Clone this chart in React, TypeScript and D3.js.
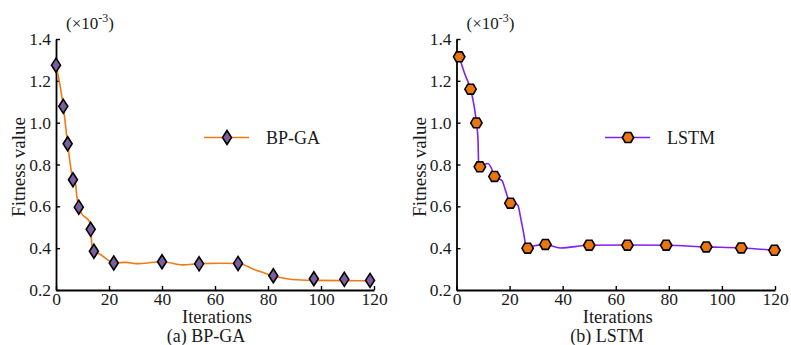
import * as d3 from "d3";
import { useEffect, useRef } from "react";

// BP-GA (panel a): marker positions and the traced fitness curve (x10^-3)
const bpMarkerIter = [0, 2.75, 4.4, 6.4, 8.6, 13.1, 14.3, 21.8, 40, 54, 68.7, 82, 97.3, 108.8, 118.5];
const bpMarkerFit = [1.275, 1.078, 0.899, 0.727, 0.596, 0.49, 0.385, 0.329, 0.335, 0.325, 0.327, 0.268, 0.254, 0.251, 0.246];
const bpLineIter = [0, 1.5, 2.75, 4.4, 6.4, 7.4, 7.8, 8.6, 9.6, 12.6, 13.1, 13.6, 14.3, 16.5, 21.8, 26.5, 30.3, 40, 47.8, 54, 61.6, 68.7, 75.3, 82, 89, 97.3, 108.8, 118.5];
const bpLineFit = [1.275, 1.18, 1.078, 0.899, 0.727, 0.705, 0.654, 0.596, 0.567, 0.527, 0.49, 0.41, 0.385, 0.372, 0.33, 0.332, 0.326, 0.335, 0.32, 0.326, 0.328, 0.327, 0.296, 0.268, 0.25, 0.246, 0.245, 0.244];

// LSTM (panel b)
const lstmMarkerIter = [1, 5.3, 7.5, 8.8, 14.3, 20.3, 26.8, 33.5, 50, 64.4, 79, 94.1, 107.3, 119.8];
const lstmMarkerFit = [1.315, 1.16, 0.999, 0.789, 0.743, 0.615, 0.4, 0.418, 0.414, 0.414, 0.414, 0.406, 0.401, 0.39];
const lstmLineIter = [1, 3.2, 5.3, 6.7, 7.5, 8.1, 8.3, 8.8, 10.5, 11.9, 13.4, 14.3, 16, 17.2, 18.4, 20.3, 22.2, 23.1, 24.1, 25.3, 26.1, 26.8, 29, 33.5, 39.1, 50, 64.4, 79, 94.1, 107.3, 119.8];
const lstmLineFit = [1.315, 1.23, 1.16, 1.075, 0.999, 0.92, 0.82, 0.789, 0.8, 0.805, 0.775, 0.743, 0.732, 0.722, 0.678, 0.615, 0.612, 0.606, 0.55, 0.471, 0.415, 0.4, 0.41, 0.418, 0.401, 0.414, 0.415, 0.414, 0.406, 0.401, 0.39];

const xTicks = [0, 20, 40, 60, 80, 100, 120];
const yTicks = [0.2, 0.4, 0.6, 0.8, 1.0, 1.2, 1.4];

const panels = [
  {
    x0: 56, x1: 374, caption: "(a) BP-GA", captionX: 206, label: "BP-GA",
    lineIter: bpLineIter, lineFit: bpLineFit, markIter: bpMarkerIter, markFit: bpMarkerFit,
    lineColor: "#f27a14", fill: "#7a5e9e", shape: "diamond", legendX: 204,
  },
  {
    x0: 456.5, x1: 775, caption: "(b) LSTM", captionX: 607, label: "LSTM",
    lineIter: lstmLineIter, lineFit: lstmLineFit, markIter: lstmMarkerIter, markFit: lstmMarkerFit,
    lineColor: "#7d22f2", fill: "#ea7410", shape: "hexagon", legendX: 605,
  },
];

const FONT = "'Liberation Serif', 'Times New Roman', serif";

const diamond = "M0,-7L4.5,0L0,7L-4.5,0Z";
const hexagon = (() => {
  const r = 5.7;
  const pts = d3.range(6).map((i) => {
    const a = (Math.PI / 3) * i;
    return [r * Math.cos(a), r * Math.sin(a)];
  });
  return "M" + pts.map((p) => p.join(",")).join("L") + "Z";
})();

const App = () => {
  const ref = useRef<SVGSVGElement>(null);

  useEffect(() => {
    const svg = d3.select(ref.current);
    const yTop = 39;
    const yBot = 290;

    panels.forEach((p) => {
      const x = d3.scaleLinear().domain([0, 120]).range([p.x0, p.x1]);
      const y = d3.scaleLinear().domain([0.2, 1.4]).range([yBot, yTop]);
      const g = svg.append("g").style("font-family", FONT);

      // axes, ticks inward
      const xAxis = g
        .append("g")
        .attr("transform", `translate(0,${yBot})`)
        .call(d3.axisBottom(x).tickValues(xTicks).tickSizeInner(-4).tickSizeOuter(0).tickPadding(3));
      const yAxis = g
        .append("g")
        .attr("transform", `translate(${p.x0},0)`)
        .call(
          d3.axisLeft(y).tickValues(yTicks).tickFormat(d3.format(".1f")).tickSizeInner(-4).tickSizeOuter(0).tickPadding(5)
        );
      [xAxis, yAxis].forEach((a) => {
        a.attr("font-family", FONT).attr("font-size", 17.5);
        a.select(".domain").attr("stroke", "#000").attr("stroke-width", 1.8);
        a.selectAll(".tick line").attr("stroke", "#000").attr("stroke-width", 1.4);
        a.selectAll(".tick text").attr("fill", "#1a1a1a");
      });

      // exponent note
      const note = g
        .append("text")
        .attr("x", p.x0 + 10)
        .attr("y", 29)
        .style("font-size", "17px")
        .attr("fill", "#1a1a1a");
      note.append("tspan").text("(×10");
      note.append("tspan").attr("dy", -7).style("font-size", "12px").text("-3");
      note.append("tspan").attr("dy", 7).text(")");

      // axis titles
      g.append("text")
        .attr("transform", `translate(${p.x0 - 31},167) rotate(-90)`)
        .attr("text-anchor", "middle")
        .style("font-size", "19px")
        .attr("fill", "#1a1a1a")
        .text("Fitness value");
      g.append("text")
        .attr("x", (p.x0 + p.x1) / 2 + 2)
        .attr("y", 323)
        .attr("text-anchor", "middle")
        .style("font-size", "18.5px")
        .attr("fill", "#1a1a1a")
        .text("Iterations");
      g.append("text")
        .attr("x", p.captionX)
        .attr("y", 341.5)
        .attr("text-anchor", "middle")
        .style("font-size", "18px")
        .attr("fill", "#1a1a1a")
        .text(p.caption);

      // curve
      const pts = p.lineIter.map((it, i) => [it, p.lineFit[i]] as [number, number]);
      const line = d3
        .line<[number, number]>()
        .x((d) => x(d[0]))
        .y((d) => y(d[1]))
        .curve(d3.curveMonotoneX);
      g.append("path")
        .attr("d", line(pts))
        .attr("fill", "none")
        .attr("stroke", p.lineColor)
        .attr("stroke-width", 1.6);

      const shape = p.shape === "diamond" ? diamond : hexagon;
      g.selectAll(".mk")
        .data(p.markIter.map((it, i) => [it, p.markFit[i]]))
        .enter()
        .append("path")
        .attr("transform", (d) => `translate(${x(d[0])},${y(d[1])})`)
        .attr("d", shape)
        .attr("fill", p.fill)
        .attr("stroke", "#000")
        .attr("stroke-width", 1.6);

      // legend
      const ly = 137.5;
      g.append("line")
        .attr("x1", p.legendX)
        .attr("x2", p.legendX + 45)
        .attr("y1", ly)
        .attr("y2", ly)
        .attr("stroke", p.lineColor)
        .attr("stroke-width", 1.6);
      g.append("path")
        .attr("transform", `translate(${p.legendX + 23},${ly})`)
        .attr("d", shape)
        .attr("fill", p.fill)
        .attr("stroke", "#000")
        .attr("stroke-width", 1.6);
      g.append("text")
        .attr("x", p.legendX + 62)
        .attr("y", ly + 6)
        .style("font-size", "18px")
        .attr("fill", "#1a1a1a")
        .text(p.label);
    });

    return () => {
      svg.selectAll("*").remove();
    };
  }, []);

  return <svg ref={ref} width={791} height={345} style={{ position: "absolute", left: 0, top: 0, background: "#fff" }} />;
};

export default App;
